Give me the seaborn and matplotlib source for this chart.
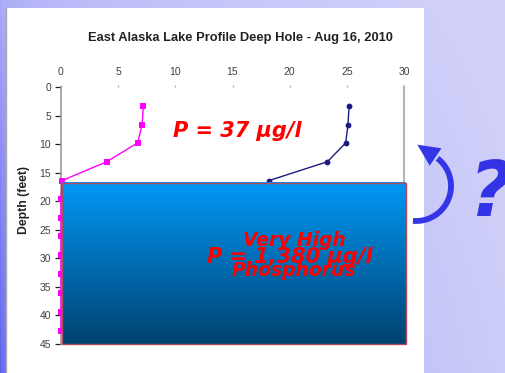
import numpy as np
import matplotlib
matplotlib.use("Agg")
import matplotlib.pyplot as plt
import seaborn as sns
import pandas as pd
from matplotlib.patches import Rectangle, Polygon

# Lake profile readings (depth in feet)
temp_depth_ft = [3.3, 6.6, 9.8, 13.1, 16.4]
temperature_c = [25.2, 25.1, 24.9, 23.3, 18.2]

oxygen_depth_ft = [3.3, 6.6, 9.8, 13.1, 16.4, 19.7, 23.0, 26.2, 29.5, 32.8, 36.1, 39.4, 42.7]
oxygen_mg_l = [7.2, 7.1, 6.7, 4.0, 0.1, 0.0, 0.0, 0.0, 0.0, 0.0, 0.0, 0.0, 0.0]

x_ticks = [0, 5, 10, 15, 20, 25, 30]
y_ticks = [0, 5, 10, 15, 20, 25, 30, 35, 40, 45]

title_text = "East Alaska Lake Profile Deep Hole - Aug 16, 2010"
surface_p = "P = 37 \u00b5g/l"
bottom_p = "P = 1,380 \u00b5g/l"
bottom_note = ["Very High", "Phosphorus"]

sns.set_style("white")
plt.rcParams["font.family"] = ["Liberation Sans", "DejaVu Sans"]

W, H = 506, 373
fig = plt.figure(figsize=(W / 100, H / 100), dpi=100)

# slide background in pixel coordinates (origin top-left)
bg = fig.add_axes([0, 0, 1, 1], zorder=0)
bg.set_axis_off()
xs = np.linspace(0, 1, W)[None, :, None]
ys = np.linspace(0, 1, H)[:, None, None]
left_col = np.array([168, 168, 248]) * (1 - ys) + np.array([96, 96, 238]) * ys
right_col = np.array([210, 210, 250]) * (1 - ys) + np.array([204, 204, 248]) * ys
s = np.clip(xs, 0, 1) ** 0.4
img = (left_col * (1 - s) + right_col * s) / 255.0
bg.imshow(img, extent=[0, W, H, 0], aspect="auto", origin="upper")
bg.set_xlim(0, W)
bg.set_ylim(H, 0)

# white chart panel
bg.add_patch(Rectangle((7, 8), 417, H - 8, facecolor="white", edgecolor="none"))
bg.plot([6.5, 6.5], [8, H], color="#a8a8b0", lw=1.0)


def fx(px):
    return px / W


def fy(py):
    return 1 - py / H


# plotting area
ax = fig.add_axes([fx(61), fy(343.7), fx(404) - fx(61), (343.7 - 87) / H], zorder=2)
ax.set_facecolor("none")

temp_df = pd.DataFrame({"value": temperature_c, "depth": temp_depth_ft})
oxy_df = pd.DataFrame({"value": oxygen_mg_l, "depth": oxygen_depth_ft})

sns.lineplot(data=oxy_df, x="value", y="depth", sort=False, estimator=None,
             color="#ff00ff", lw=1.0, marker="s", markersize=4.5,
             markeredgewidth=0, ax=ax, zorder=3, clip_on=False)
sns.lineplot(data=temp_df, x="value", y="depth", sort=False, estimator=None,
             color="#1c1c80", lw=1.0, marker="o", markersize=4.2,
             markeredgewidth=0, ax=ax, zorder=3)

ax.set_xlim(0, 30)
ax.set_ylim(45, 0)
ax.set_xticks(x_ticks)
ax.set_yticks(y_ticks)
ax.xaxis.tick_top()
ax.set_xlabel("")
ax.set_ylabel("")
ax.tick_params(axis="x", top=True, length=1.5, width=1, color="#b0b0b0",
               pad=6, labelsize=7.5, labelcolor="#404040")
ax.tick_params(axis="y", left=True, length=4, width=0.9, color="#202020",
               pad=3, labelsize=7.5, labelcolor="#404040")
for side in ("top", "bottom"):
    ax.spines[side].set_visible(False)
ax.spines["left"].set_color("#9a9a9a")
ax.spines["left"].set_linewidth(1.2)
ax.spines["right"].set_color("#b4b4b4")
ax.spines["right"].set_linewidth(1.5)

# hypolimnion block with vertical gradient
x0, x1, y0, y1 = 0.12, 30.18, 16.75, 45.05
grad = np.linspace(0, 1, 200)[:, None, None]
top_c = np.array([0, 152, 245]) / 255.0
bot_c = np.array([0, 66, 112]) / 255.0
block = top_c * (1 - grad) + bot_c * grad
ax.imshow(block, extent=[x0, x1, y1, y0], aspect="auto", zorder=4,
          origin="upper", clip_on=False)
ax.add_patch(Rectangle((x0, y0), x1 - x0, y1 - y0, facecolor="none",
                       edgecolor="#b04a5c", lw=1.0, zorder=5, clip_on=False))
ax.set_xlim(0, 30)
ax.set_ylim(45, 0)

fig.text(fx(240), fy(38), title_text, ha="center", va="center",
         fontsize=9.3, fontweight="bold", color="#222222")
fig.text(fx(24), fy(200), "Depth (feet)", rotation=90, ha="center", va="center",
         fontsize=8.8, fontweight="bold", color="#222222")

red_font = ["DejaVu Sans"]
red_kw = dict(ha="center", va="baseline", fontweight="bold", style="italic",
              color="#ff0000", family=red_font, zorder=6)
fig.text(fx(237), fy(137), surface_p, fontsize=15, **red_kw)
fig.text(fx(294), fy(246.5), bottom_note[0], fontsize=13.5, **red_kw)
fig.text(fx(290), fy(263), bottom_p, fontsize=15, **red_kw)
fig.text(fx(294), fy(276), bottom_note[1], fontsize=13.5, **red_kw)

# recirculation arrow: circular arc plus triangular head
arrow_col = "#3535e8"
cx, cy, r = 416, 186, 35
theta = np.radians(np.linspace(95, -52, 80))
bg.plot(cx + r * np.cos(theta), cy + r * np.sin(theta), color=arrow_col,
        lw=4.2, solid_capstyle="butt", zorder=5)
tb = np.radians(-56)
base = np.array([cx + r * np.cos(tb), cy + r * np.sin(tb)])
direction = np.array([np.sin(tb), -np.cos(tb)])
normal = np.array([-direction[1], direction[0]])
tip = base + 22 * direction
head = [tip, base + 10.5 * normal, base - 10.5 * normal]
bg.add_patch(Polygon(head, closed=True, facecolor=arrow_col, edgecolor="none", zorder=5))

bg.text(490, 216, "?", ha="center", va="baseline", fontsize=55,
        fontweight="bold", style="italic", color="#3333e6",
        family=["DejaVu Sans"], zorder=7)

fig.savefig("out.png", dpi=100)
